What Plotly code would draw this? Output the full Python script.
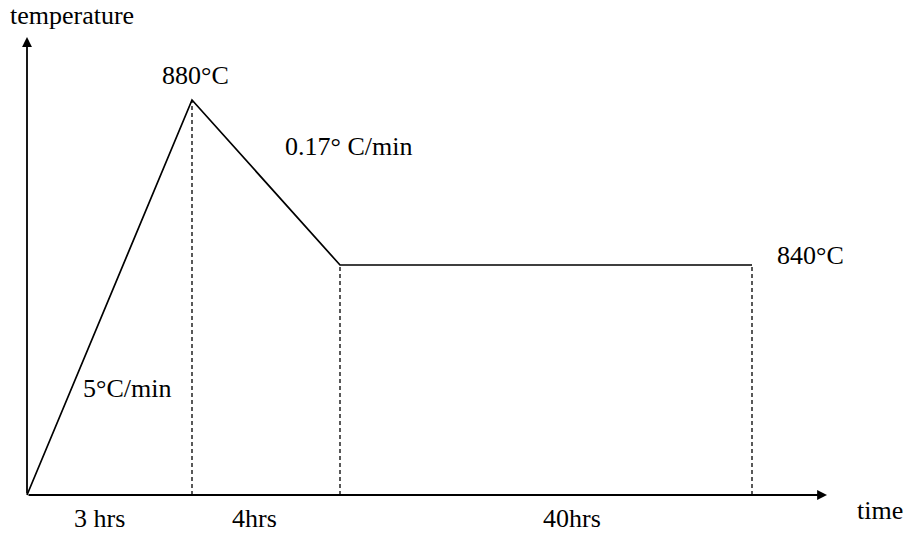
import plotly.graph_objects as go

# schematic profile (not to scale, as in the original sketch)
time_pos = [0, 1.65, 3.13, 7.25]        # schematic positions of the break points
temp_pos = [0, 3.95, 2.30, 2.30]        # schematic heights of the break points
point_labels = ["", "880°C", "", "840°C"]
segment_labels = ["3 hrs", "4hrs", "40hrs"]
rate_labels = ["5°C/min", "0.17° C/min", ""]
x_title = "time"
y_title = "temperature"

FONT = "Liberation Serif"
fig = go.Figure()

# main profile line
fig.add_trace(go.Scatter(x=time_pos, y=temp_pos, mode="lines",
                         line=dict(color="black", width=1.7), showlegend=False, hoverinfo="skip"))

# dashed drop lines
for i in range(1, len(time_pos)):
    fig.add_trace(go.Scatter(x=[time_pos[i], time_pos[i]], y=[0, temp_pos[i]], mode="lines",
                             line=dict(color="black", width=1.3, dash="4px,3px"),
                             showlegend=False, hoverinfo="skip"))

ann = []
# axes with arrows
x_end = 8.0
y_end = 4.58
for tip in [(x_end, 0), (0, y_end)]:
    ann.append(dict(x=tip[0], y=tip[1], ax=0, ay=0, xref="x", yref="y", axref="x", ayref="y",
                    showarrow=True, arrowhead=2, arrowsize=1.1, arrowwidth=1.8,
                    arrowcolor="black", text=""))

txt = dict(family=FONT, size=26, color="black")
ann.append(dict(x=0.45, y=4.80, xref="x", yref="y", text=y_title, showarrow=False,
                xanchor="center", yanchor="middle", font=txt))
ann.append(dict(x=8.53, y=-0.15, xref="x", yref="y", text=x_title, showarrow=False,
                xanchor="center", yanchor="middle", font=txt))

# point labels
ann.append(dict(x=time_pos[1] + 0.03, y=temp_pos[1] + 0.25, xref="x", yref="y", text=point_labels[1],
                showarrow=False, xanchor="center", yanchor="middle", font=txt))
ann.append(dict(x=time_pos[3] + 0.58, y=temp_pos[3] + 0.10, xref="x", yref="y", text=point_labels[3],
                showarrow=False, xanchor="center", yanchor="middle", font=txt))

# segment duration labels (under each segment)
seg_off = [-0.10, -0.12, 0.26]
for i, lab in enumerate(segment_labels):
    mid = (time_pos[i] + time_pos[i + 1]) / 2
    ann.append(dict(x=mid + seg_off[i], y=-0.23, xref="x", yref="y", text=lab, showarrow=False,
                    xanchor="center", yanchor="middle", font=txt))

# rate labels
ann.append(dict(x=1.00, y=1.07, xref="x", yref="y", text=rate_labels[0], showarrow=False,
                xanchor="center", yanchor="middle", font=txt))
ann.append(dict(x=3.21, y=3.49, xref="x", yref="y", text=rate_labels[1], showarrow=False,
                xanchor="center", yanchor="middle", font=txt))

fig.update_layout(
    width=908, height=534, margin=dict(l=0, r=0, t=0, b=0),
    paper_bgcolor="white", plot_bgcolor="white",
    xaxis=dict(range=[-0.27, 8.81], visible=False, fixedrange=True),
    yaxis=dict(range=[-0.39, 4.95], visible=False, fixedrange=True),
    annotations=ann, showlegend=False,
)
fig.write_html("out.html")
